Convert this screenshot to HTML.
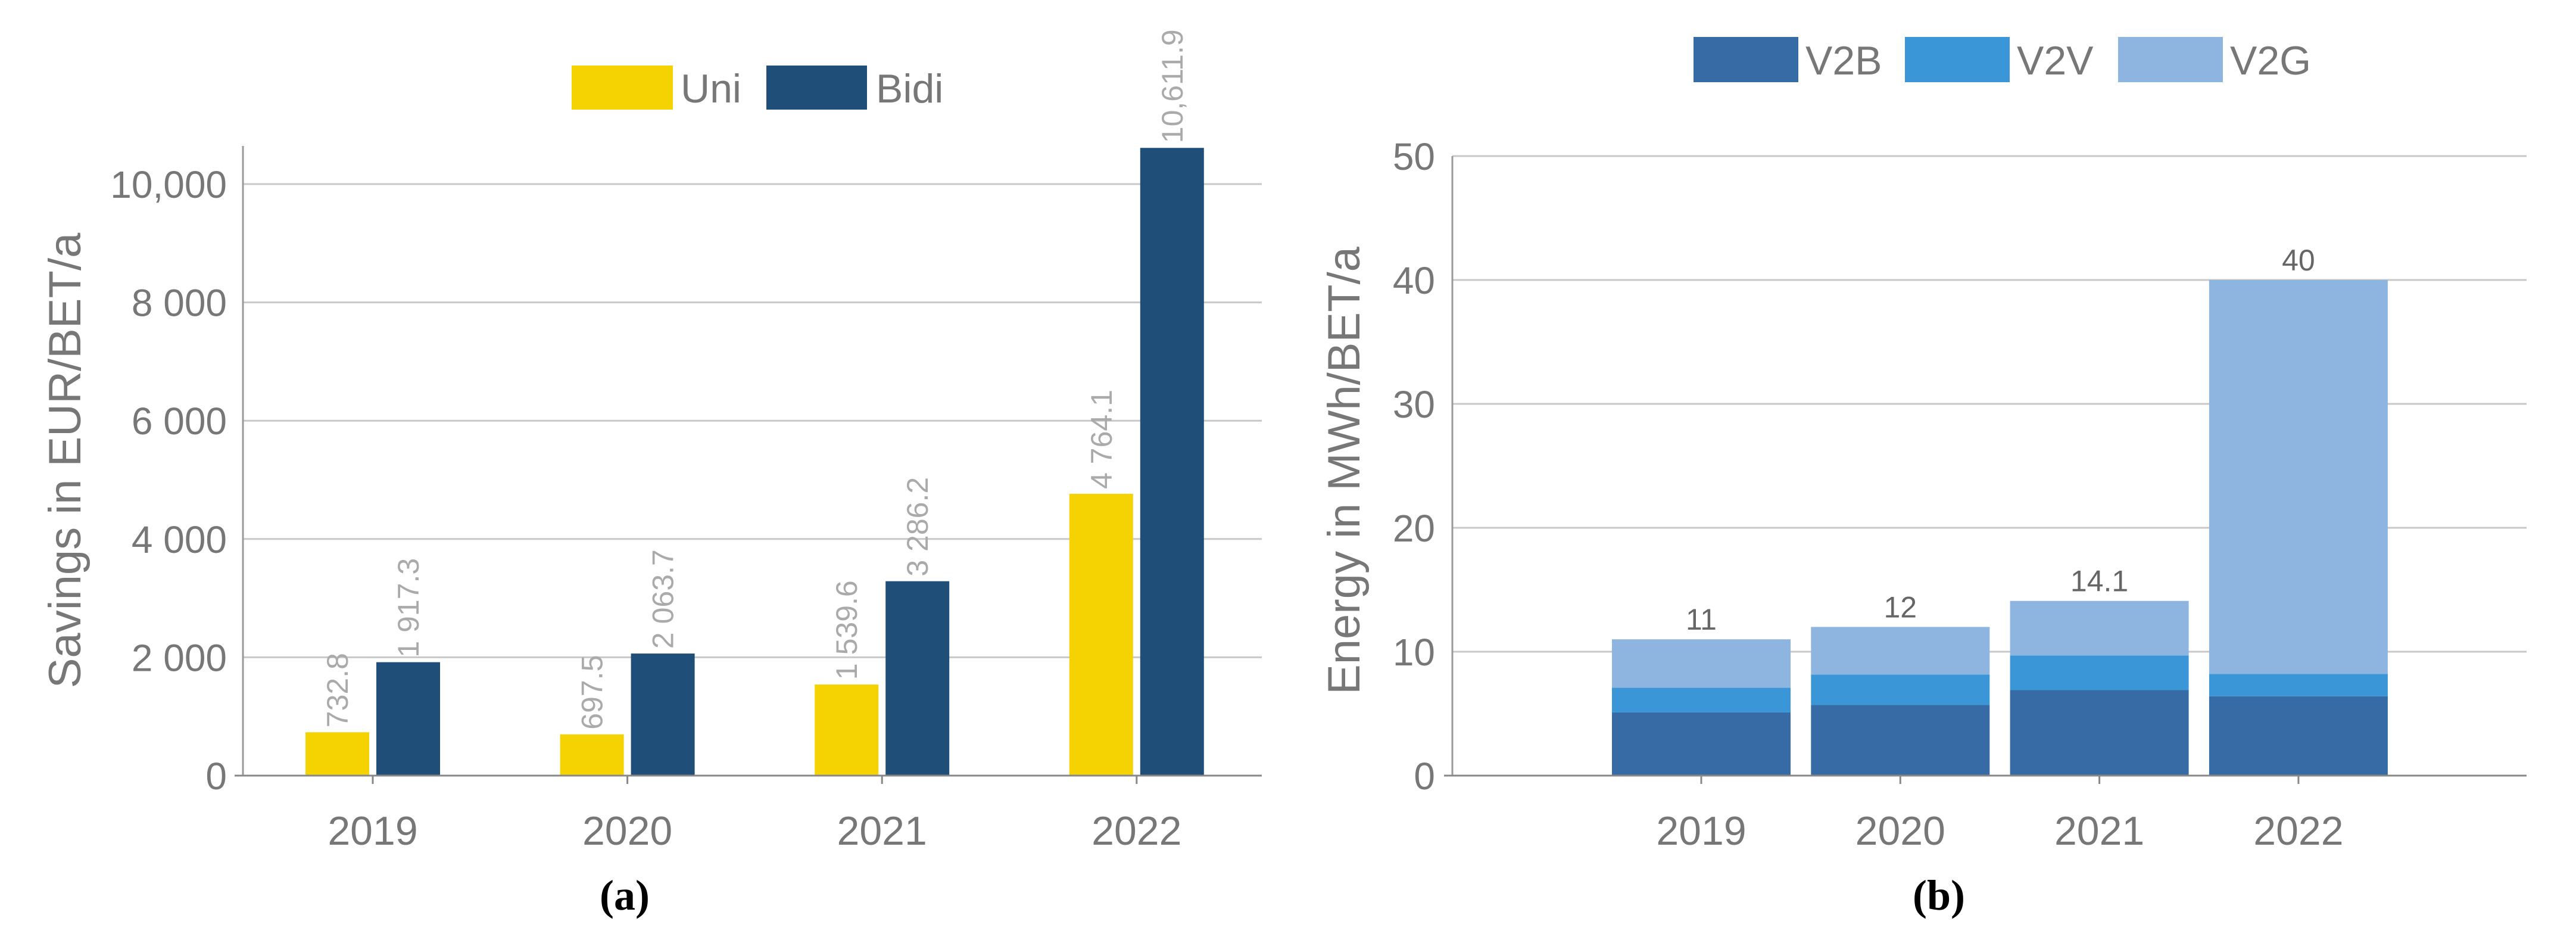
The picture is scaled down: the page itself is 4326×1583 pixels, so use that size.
<!DOCTYPE html>
<html><head><meta charset="utf-8"><style>
html,body{margin:0;padding:0;background:#fff;}
svg{display:block;font-family:"Liberation Sans",sans-serif;}
</style></head><body>
<svg id="c" width="4326" height="1583" viewBox="0 0 4326 1583"></svg>
<script>
const years=["2019","2020","2021","2022"];
const uniVals=[732.8,697.5,1539.6,4764.1];
const bidiVals=[1917.3,2063.7,3286.2,10611.9];
const uniLabels=["732.8","697.5","1 539.6","4 764.1"];
const bidiLabels=["1 917.3","2 063.7","3 286.2","10,611.9"];
const leftTicks=[0,2000,4000,6000,8000,10000];
const leftTickLabels=["0","2 000","4 000","6 000","8 000","10,000"];
const v2b=[5.1,5.7,6.9,6.4];
const v2v=[2.0,2.46,2.8,1.8];
const v2g=[3.9,3.84,4.4,31.8];
const totalLabels=["11","12","14.1","40"];
const rightTicks=[0,10,20,30,40,50];

const S=document.getElementById('c');
const NS="http://www.w3.org/2000/svg";
function el(tag,attrs,parent){const e=document.createElementNS(NS,tag);for(const k in attrs)e.setAttribute(k,attrs[k]);(parent||S).appendChild(e);return e;}
function txt(s,attrs,parent){const e=el('text',attrs,parent);e.textContent=s;return e;}

// ---------- Left chart ----------
const L={x0:408,x1:2119,y0:1302,k:(1302-309)/10000};
const ly=v=>L.y0-v*L.k;
const lx=i=>626+i*427.6;
const gL=el('g',{});


leftTicks.forEach((t,i)=>{
  if(t>0){const g=el('line',{x1:L.x0,x2:L.x1,y1:ly(t),y2:ly(t),stroke:'#c8c8c8','stroke-width':3},gL);
  }
  const tl=txt(leftTickLabels[i],{x:381,y:ly(t)+23,'text-anchor':'end','font-size':64,fill:'#777'},gL);
  
});
years.forEach((y,i)=>{
  const cx=lx(i);
  const u=el('rect',{x:cx-113,y:ly(uniVals[i]),width:107,height:uniVals[i]*L.k,fill:'#F5D302'},gL);
  
  const b=el('rect',{x:cx+6,y:ly(bidiVals[i]),width:107,height:bidiVals[i]*L.k,fill:'#1F4E79'},gL);
  
  const ul=txt(uniLabels[i],{transform:`translate(${cx-42},${ly(uniVals[i])-8}) rotate(-90)`,'font-size':50,fill:'#aaa'},gL);
  
  const bl=txt(bidiLabels[i],{transform:`translate(${cx+77},${ly(bidiVals[i])-8}) rotate(-90)`,'font-size':50,fill:'#aaa'},gL);
  
  el('line',{x1:cx,x2:cx,y1:L.y0,y2:L.y0+14,stroke:'#888','stroke-width':3},gL);
  const yl=txt(y,{x:cx,y:1418,'text-anchor':'middle','font-size':68,fill:'#777'},gL);
  
});
el('line',{x1:L.x0,x2:L.x0,y1:245,y2:L.y0,stroke:'#999','stroke-width':3},gL);
el('line',{x1:L.x0-14,x2:L.x1,y1:L.y0,y2:L.y0,stroke:'#888','stroke-width':3},gL);
const lt=txt("Savings in EUR/BET/a",{transform:'translate(135,773) rotate(-90)','text-anchor':'middle','font-size':76,fill:'#777'},gL);

const lg1=el('g',{},gL);

el('rect',{x:960,y:110,width:170,height:74,fill:'#F5D302'},lg1);
txt("Uni",{x:1143,y:172,'font-size':68,fill:'#777'},lg1);
el('rect',{x:1287,y:110,width:169,height:74,fill:'#1F4E79'},lg1);
txt("Bidi",{x:1471,y:172,'font-size':68,fill:'#777'},lg1);
const ca=txt("(a)",{x:1049,y:1527,'text-anchor':'middle','font-size':72,'font-weight':'bold','font-family':'Liberation Serif,serif',fill:'#000'},gL);


// ---------- Right chart ----------
const R={x0:2439,x1:4243,y0:1302,k:(1302-262)/50};
const ry=v=>R.y0-v*R.k;
const rx=i=>2857+i*334.3;
const gR=el('g',{});


rightTicks.forEach(t=>{
  if(t>0){const g=el('line',{x1:R.x0,x2:R.x1,y1:ry(t),y2:ry(t),stroke:'#c8c8c8','stroke-width':3},gR);
  }
  const tl=txt(String(t),{x:2410,y:ry(t)+23,'text-anchor':'end','font-size':64,fill:'#777'},gR);
  
});
const colors=['#376BA5','#3A96D6','#8DB5E0'];
const series=[v2b,v2v,v2g];
const sNames=['v2b','v2v','v2g'];
years.forEach((y,i)=>{
  const cx=rx(i);let base=0;
  series.forEach((s,j)=>{
    const r=el('rect',{x:cx-150,y:ry(base+s[i]),width:300,height:s[i]*R.k,fill:colors[j]},gR);
    
    base+=s[i];
  });
  const tl=txt(totalLabels[i],{x:cx,y:ry(base)-16,'text-anchor':'middle','font-size':50,fill:'#666'},gR);
  
  el('line',{x1:cx,x2:cx,y1:R.y0,y2:R.y0+14,stroke:'#888','stroke-width':3},gR);
  const yl=txt(y,{x:cx,y:1418,'text-anchor':'middle','font-size':68,fill:'#777'},gR);
  
});
el('line',{x1:R.x0,x2:R.x0,y1:262,y2:R.y0,stroke:'#999','stroke-width':3},gR);
el('line',{x1:R.x0-14,x2:R.x1,y1:R.y0,y2:R.y0,stroke:'#888','stroke-width':3},gR);
const rt=txt("Energy in MWh/BET/a",{transform:'translate(2283,790) rotate(-90)','text-anchor':'middle','font-size':76,fill:'#777'},gR);

const lg2=el('g',{},gR);

[['V2B',2844],['V2V',3199],['V2G',3557]].forEach((d,j)=>{
  el('rect',{x:d[1],y:62,width:176,height:76,fill:colors[j]},lg2);
  txt(d[0],{x:d[1]+188,y:125,'font-size':68,fill:'#777'},lg2);
});
const cb=txt("(b)",{x:3256,y:1527,'text-anchor':'middle','font-size':72,'font-weight':'bold','font-family':'Liberation Serif,serif',fill:'#000'},gR);

</script>
</body></html>
